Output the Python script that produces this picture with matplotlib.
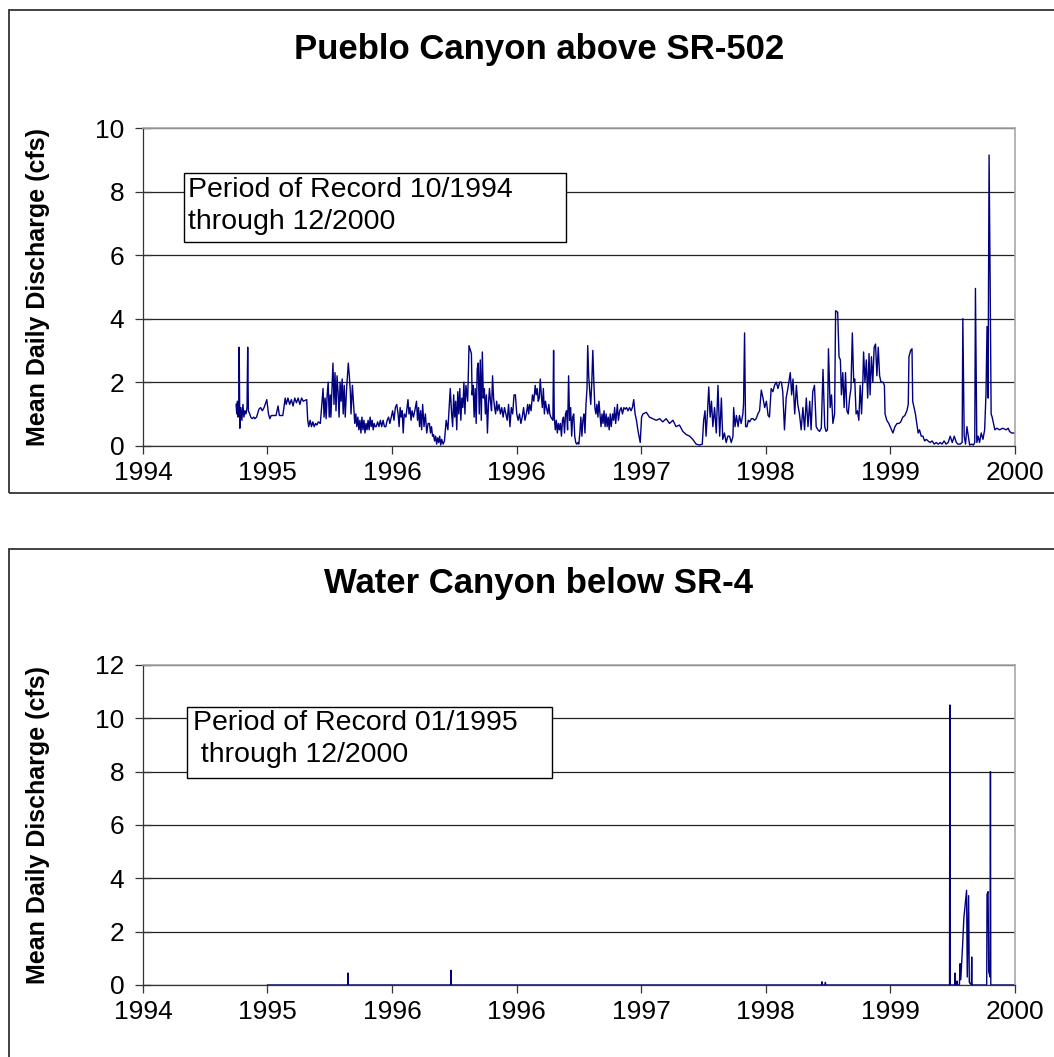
import pandas as pd
import matplotlib
matplotlib.use('Agg')
import matplotlib.pyplot as plt
from matplotlib.patches import Rectangle

plt.rcParams['font.family'] = ['Liberation Sans', 'DejaVu Sans']

# Суточные расходы, дни отсчитаны от 1994-01-01
pueblo_day = [
    273, 275, 277, 279, 281, 282, 284, 287, 290, 293, 296, 299, 302, 305, 307, 309, 313, 316, 320, 325,
    328, 333, 340, 345, 350, 355, 363, 368, 372, 376, 383, 390, 396, 400, 410, 417, 420, 425, 430, 435,
    440, 445, 450, 455, 460, 465, 470, 480, 483, 486, 490, 494, 498, 502, 506, 510, 514, 520, 528, 531,
    534, 537, 540, 543, 546, 549, 551, 557, 560, 563, 566, 569, 572, 575, 578, 581, 584, 587, 590, 593,
    597, 602, 605, 608, 610, 614, 618, 621, 624, 627, 630, 633, 636, 639, 642, 645, 648, 651, 654, 657,
    660, 663, 666, 669, 672, 675, 678, 681, 684, 688, 692, 696, 700, 704, 708, 712, 716, 720, 724, 728,
    732, 736, 740, 744, 748, 751, 754, 757, 760, 763, 766, 771, 777, 780, 783, 786, 789, 793, 797, 802,
    805, 808, 811, 814, 817, 820, 824, 828, 832, 836,
    840, 843, 846, 849, 852, 855, 858, 861, 864, 867, 870, 873, 876, 880, 884, 889, 894, 901, 905, 908,
    911, 914, 917, 920, 923, 926, 929, 932, 935, 938, 941, 944, 947, 952, 956, 963, 965, 968, 971, 974,
    977, 980, 983, 986, 989, 992, 995, 998, 1001, 1004, 1007, 1010, 1013, 1016, 1019, 1022, 1025, 1028, 1031, 1034,
    1037, 1040, 1044, 1048, 1052, 1056, 1060, 1064, 1068, 1072, 1076, 1080, 1084, 1088, 1092, 1096, 1100, 1104, 1108, 1112,
    1116, 1120, 1124, 1128, 1131, 1134, 1138, 1142, 1146, 1150, 1153, 1156, 1159, 1162, 1165, 1168, 1171, 1174, 1177, 1180,
    1183, 1187, 1190, 1193, 1196, 1202, 1204, 1206, 1209, 1212, 1215, 1218, 1221, 1224, 1227, 1230, 1233, 1236, 1239, 1242,
    1245, 1248, 1251, 1254, 1257, 1260, 1263, 1266, 1269, 1272, 1275, 1278, 1281, 1284, 1287, 1290, 1293, 1296, 1299, 1302,
    1304, 1307, 1310, 1313, 1316, 1319, 1322, 1325, 1328, 1331, 1334, 1337, 1340, 1343, 1346, 1349, 1352, 1355, 1358, 1361,
    1364, 1367, 1370, 1373, 1377, 1380, 1383, 1386, 1391, 1394, 1398, 1402, 1406, 1410, 1414, 1418, 1422, 1427, 1431, 1435,
    1439, 1443, 1447, 1451, 1458, 1462, 1466, 1476, 1485, 1495, 1505, 1515, 1524, 1534, 1544, 1554, 1563, 1573, 1583, 1593,
    1603, 1612, 1622, 1632, 1640, 1644, 1648, 1651, 1655, 1659, 1663, 1667, 1671, 1676, 1681, 1686, 1691, 1696, 1700, 1705,
    1710, 1715,
    1720, 1725, 1730, 1732, 1736, 1740, 1745, 1749, 1754, 1759, 1761, 1764, 1767, 1771, 1775, 1779, 1784, 1789, 1793, 1798,
    1803, 1808, 1813, 1818, 1823, 1828, 1833, 1837, 1842, 1847, 1852, 1857, 1862, 1867, 1872, 1876, 1881, 1886, 1891, 1898,
    1902, 1906, 1911, 1916, 1920, 1925, 1930, 1935, 1940, 1945, 1950, 1955, 1959, 1964, 1969, 1974, 1979, 1984, 1989, 1994,
    1999, 2003, 2007, 2010, 2015, 2019, 2023, 2028, 2031, 2037, 2041, 2045, 2048, 2052, 2056, 2060, 2064, 2068, 2072, 2076,
    2080, 2084, 2087, 2091, 2095, 2099, 2103, 2107, 2111, 2113, 2117, 2121, 2125, 2129, 2132, 2136, 2140, 2144, 2148, 2152,
    2156, 2160, 2164, 2170, 2174, 2176, 2181, 2187, 2193, 2199, 2205, 2211, 2217, 2222, 2228, 2234, 2240, 2244, 2246, 2251,
    2255, 2257, 2261, 2265, 2269, 2273, 2277, 2282, 2287, 2292, 2297, 2302, 2308, 2314, 2320, 2326, 2332, 2338, 2343, 2349,
    2355, 2361, 2367, 2373, 2379, 2385, 2390, 2396, 2402, 2404, 2408, 2412, 2416, 2420, 2424, 2430, 2435, 2439, 2441, 2445,
    2449, 2453, 2458, 2463, 2468, 2472, 2475, 2478, 2481, 2484, 2487, 2490, 2494, 2498, 2504, 2512, 2521, 2531, 2537, 2541,
    2547, 2555,
]
pueblo_cfs = [
    1.3, 1.0, 1.4, 0.9, 1.2, 3.1, 0.55, 1.2, 0.8, 1.3, 0.9, 1.1, 1.0, 1.2, 3.1, 1.1, 1.0, 0.9, 0.85, 0.9,
    0.85, 0.9, 1.15, 1.2, 1.1, 1.2, 1.45, 1.0, 0.85, 0.95, 0.95, 0.95, 1.25, 0.95, 0.95, 1.5, 1.3, 1.5, 1.3, 1.45,
    1.25, 1.5, 1.35, 1.5, 1.3, 1.5, 1.4, 1.45, 0.8, 0.6, 0.8, 0.6, 0.75, 0.6, 0.7, 0.65, 0.75, 0.7, 1.8, 0.9,
    1.5, 0.85, 1.6, 2.0, 0.9, 1.6, 0.9, 2.6, 1.3, 2.3, 1.1, 2.2, 1.7, 0.9, 2.0, 1.4, 2.1, 1.0, 1.9, 0.9,
    1.8, 2.6, 2.2, 1.7, 1.0, 1.9, 1.2, 0.7, 1.0, 0.6, 0.9, 0.5, 0.8, 0.4, 0.9, 0.5, 0.8, 0.4, 0.7, 0.5,
    0.8, 0.5, 0.9, 0.6, 0.8, 0.5, 0.7, 0.6, 0.6, 0.75, 0.6, 0.8, 0.6, 0.8, 0.6, 0.6, 0.8, 0.9, 0.7, 0.9,
    1.1, 0.8, 1.2, 1.3, 1.0, 0.6, 1.2, 0.9, 1.1, 0.4, 1.0, 0.9, 1.45, 1.0, 1.2, 0.8, 1.1, 0.9, 1.1, 1.4,
    0.8, 1.2, 0.6, 1.1, 0.5, 1.3, 0.6, 1.0, 0.4, 0.7,
    0.7, 0.4, 0.6, 0.3, 0.35, 0.15, 0.3, 0.05, 0.25, 0.1, 0.3, 0.02, 0.2, 0.05, 0.15, 0.8, 0.5, 1.8, 1.0, 0.6,
    1.6, 0.9, 1.4, 0.5, 1.7, 1.0, 1.8, 0.8, 1.5, 1.2, 2.0, 1.0, 1.9, 1.4, 3.15, 2.9, 1.6, 1.9, 0.9, 1.8,
    0.7, 2.4, 2.6, 1.0, 2.7, 0.8, 2.95, 1.5, 1.8, 1.0, 1.6, 0.4, 1.3, 1.8, 1.4, 1.1, 2.2, 1.5, 1.2, 1.0,
    1.4, 1.1, 1.3, 1.0, 1.2, 0.9, 1.2, 1.0, 0.8, 1.3, 0.6, 1.2, 1.0, 1.6, 1.6, 1.0, 0.8, 1.0, 0.7, 0.9,
    1.2, 0.8, 1.0, 1.3, 1.0, 1.3, 1.1, 1.6, 1.4, 1.9, 1.6, 1.8, 1.4, 1.5, 2.1, 1.6, 1.2, 1.8, 1.0, 1.4,
    1.2, 1.0, 1.3, 1.0, 0.9, 0.8, 3.0, 0.9, 0.5, 0.8, 0.4, 0.7, 0.5, 0.7, 0.3, 0.8, 0.9, 0.4, 1.0, 1.1,
    0.5, 2.2, 0.8, 1.2, 0.3, 0.9, 1.0, 0.3, 0.1, 0.05, 0.1, 0.05, 0.4, 0.9, 0.3, 0.8, 1.0, 0.4, 1.3, 1.8,
    3.15, 2.2, 1.7, 1.3, 2.0, 3.0, 2.0, 1.2, 1.0, 1.3, 0.9, 1.4, 1.0, 0.6, 1.0, 0.7, 1.1, 0.6, 1.0, 0.6,
    0.9, 0.5, 1.0, 0.6, 1.0, 0.8, 1.2, 0.7, 1.3, 0.8, 1.1, 1.2, 1.0, 1.2, 1.15, 1.2, 1.1, 1.2, 1.1, 1.2,
    1.45, 1.0, 0.8, 0.5, 0.1, 0.9, 1.0, 1.05, 0.9, 0.85, 0.8, 0.85, 0.75, 0.85, 0.7, 0.8, 0.6, 0.65, 0.45, 0.35,
    0.3, 0.2, 0.05, 0.02, 0.05, 0.8, 1.1, 0.3, 1.0, 1.85, 0.9, 1.4, 0.6, 1.2, 0.4, 1.9, 0.3, 1.5, 0.2, 0.4,
    0.1, 0.3,
    0.3, 0.1, 0.3, 1.2, 0.6, 0.95, 0.6, 0.95, 0.7, 1.0, 1.3, 3.55, 0.6, 0.6, 0.8, 0.75, 0.85, 0.85, 0.8, 0.85,
    1.0, 1.1, 1.75, 1.5, 1.2, 1.4, 0.95, 0.9, 1.8, 1.7, 1.9, 2.0, 1.8, 2.0, 2.0, 1.7, 0.5, 1.5, 1.8, 2.3,
    1.6, 2.1, 1.0, 1.9, 1.3, 1.0, 0.5, 1.2, 0.5, 1.5, 0.6, 1.4, 0.5, 1.7, 1.9, 0.6, 0.5, 0.45, 0.55, 2.4,
    0.6, 0.45, 0.5, 3.05, 1.2, 1.6, 0.7, 1.0, 4.25, 4.2, 2.8, 2.7, 1.6, 2.3, 1.2, 2.3, 1.1, 1.0, 1.5, 1.8,
    3.55, 2.0, 2.1, 1.0, 1.1, 0.8, 1.9, 1.0, 2.1, 2.95, 2.0, 2.7, 1.5, 2.9, 1.6, 2.8, 2.0, 3.1, 3.2, 2.2,
    3.1, 2.2, 2.0, 2.0, 1.9, 1.0, 0.8, 0.7, 0.55, 0.4, 0.6, 0.7, 0.7, 0.75, 0.9, 0.95, 1.1, 1.3, 2.8, 3.0,
    3.05, 1.4, 1.2, 1.0, 0.7, 0.4, 0.5, 0.3, 0.3, 0.15, 0.2, 0.15, 0.1, 0.15, 0.05, 0.1, 0.05, 0.1, 0.05, 0.15,
    0.05, 0.1, 0.3, 0.1, 0.3, 0.1, 0.05, 0.05, 0.1, 4.0, 0.3, 0.05, 0.6, 0.3, 0.02, 0.05, 0.02, 0.1, 4.95, 0.1,
    0.3, 0.1, 0.4, 0.2, 0.5, 1.65, 3.75, 1.5, 9.15, 5.3, 1.0, 0.9, 0.7, 0.5, 0.55, 0.5, 0.55, 0.5, 0.55, 0.45,
    0.4, 0.4,
]

water_day = [365, 600, 601, 602, 902, 903, 904, 1990, 1991, 1992, 2000, 2001, 2002,
             2365, 2366, 2367, 2380, 2381, 2382, 2386, 2387, 2388, 2394, 2396, 2398,
             2403, 2407, 2415, 2417, 2421, 2423, 2429, 2430, 2431, 2474, 2475, 2478,
             2480, 2484, 2485, 2486, 2555]
water_cfs = [0, 0, 0.45, 0, 0, 0.55, 0, 0, 0.12, 0, 0, 0.1, 0,
             0, 10.5, 0, 0, 0.45, 0, 0, 0.15, 0, 0, 0.8, 0.2,
             1.4, 2.5, 3.55, 0.3, 3.35, 0.1, 0, 1.05, 0, 0, 3.4, 3.5,
             0.5, 0.3, 8.0, 0, 0]

year_ticks = ['1994-01-01', '1995-01-01', '1996-01-01', '1997-01-01',
              '1998-01-01', '1999-01-01', '2000-01-01', '2001-01-01']
year_labels = ['1994', '1995', '1996', '1996', '1997', '1998', '1999', '2000']

W, H = 1054, 1057
START = pd.Timestamp('1994-01-01')


def fx(px):
    return px / W


def fy(py):
    return 1 - py / H


def to_dates(days):
    return START + pd.to_timedelta(days, unit='D')


def draw_panel(fig, box_top, box_bottom, ax_top, ax_bottom, title, title_y,
               days, cfs, ymax, note, note_box, note_x, note_y):
    # рамка вокруг диаграммы
    fig.add_artist(Rectangle((fx(9), fy(box_bottom)), 1.2, fy(box_top) - fy(box_bottom),
                             transform=fig.transFigure, fill=False,
                             edgecolor='#333333', linewidth=1.3))
    ax = fig.add_axes([fx(143), fy(ax_bottom), fx(1015) - fx(143), fy(ax_top) - fy(ax_bottom)])
    ax.plot(to_dates(days), cfs, color='#000080', linewidth=1.0)

    ax.set_xlim(pd.Timestamp(year_ticks[0]), pd.Timestamp(year_ticks[-1]))
    ax.set_ylim(0, ymax)
    ax.set_yticks(range(0, ymax + 1, 2))
    ax.set_xticks(pd.to_datetime(year_ticks))
    ax.set_xticklabels(year_labels)
    ax.tick_params(axis='y', direction='inout', length=11, width=0.9, color='#333333',
                   labelsize=19, pad=8)
    ax.tick_params(axis='x', direction='out', length=6, width=0.9, color='#333333',
                   labelsize=19, pad=5)

    ax.set_axisbelow(True)
    ax.grid(axis='y', color='#222222', linewidth=0.9)
    for side in ('left', 'bottom'):
        ax.spines[side].set_color('#333333')
        ax.spines[side].set_linewidth(0.9)
    for side in ('top', 'right'):
        ax.spines[side].set_color('#a8a8a8')
        ax.spines[side].set_linewidth(1.2)

    fig.text(fx(539), fy(title_y), title, ha='center', va='center',
             fontsize=25, fontweight='bold')
    fig.text(fx(38), fy((ax_top + ax_bottom) / 2), 'Mean Daily Discharge (cfs)',
             rotation=90, ha='center', va='center', fontsize=18, fontweight='bold')

    # подпись с периодом наблюдений
    x0, y0, x1, y1 = note_box
    fig.add_artist(Rectangle((fx(x0), fy(y1)), fx(x1) - fx(x0), fy(y0) - fy(y1),
                             transform=fig.transFigure, facecolor='white',
                             edgecolor='black', linewidth=1.0))
    for line, ly in zip(note, note_y):
        fig.text(fx(note_x), fy(ly), line, ha='left', va='center', fontsize=20.5)
    return ax


fig = plt.figure(figsize=(W / 100, H / 100), dpi=100)

draw_panel(fig, 10, 493, 128, 445.7, 'Pueblo Canyon above SR-502', 49,
           pueblo_day, pueblo_cfs, 10,
           ['Period of Record 10/1994', 'through 12/2000'],
           (184, 173, 566, 242), 188, (190, 222))

draw_panel(fig, 549, 1100, 665, 985, 'Water Canyon below SR-4', 584,
           water_day, water_cfs, 12,
           ['Period of Record 01/1995', ' through 12/2000'],
           (187, 707, 552, 778), 193, (723, 755))

fig.savefig('out.png', dpi=100)
